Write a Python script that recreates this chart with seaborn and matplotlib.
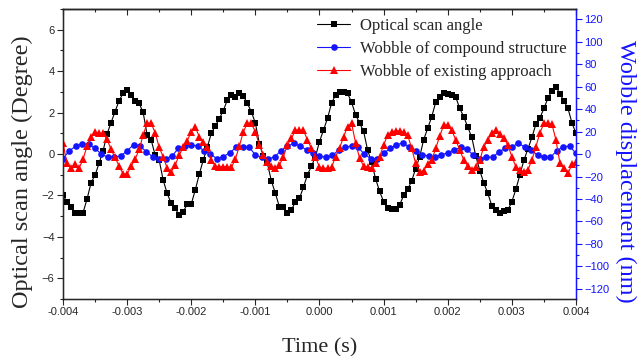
import numpy as np
import matplotlib
matplotlib.use("Agg")
import matplotlib.pyplot as plt
import seaborn as sns
from matplotlib.ticker import MultipleLocator, FormatStrFormatter, NullFormatter
from matplotlib.lines import Line2D

# --- data ---
# scan angle and existing-approach wobble share one time base (129 samples)
time_dense = np.linspace(-0.004, 0.004, 129)
scan_angle = [
    -2.0, -2.3, -2.56, -2.83, -2.83, -2.83, -2.18, -1.39, -1.02, -0.45,
    0.15, 0.97, 1.52, 2.05, 2.58, 2.93, 3.09, 2.85, 2.58, 2.45,
    2.01, 0.92, 0.68, -0.05, -0.29, -1.26, -1.9, -2.38, -2.62, -2.95,
    -2.79, -2.42, -2.42, -1.74, -0.98, -0.29, 0.32, 1.0, 1.35, 1.7,
    2.1, 2.6, 2.85, 2.77, 2.93, 2.8, 2.45, 2.04, 1.5, 0.5,
    -0.1, -0.45, -1.3, -1.9, -2.55, -2.55, -2.84, -2.7, -2.3, -2.14,
    -1.6, -1.0, -0.58, -0.13, 0.6, 1.16, 1.72, 2.45, 2.85, 3.0,
    3.0, 2.93, 2.5, 1.9, 1.5, 1.1, 0.2, -0.4, -1.2, -1.8,
    -2.3, -2.6, -2.67, -2.67, -2.45, -2.0, -1.7, -1.3, -0.7, -0.13,
    0.7, 1.24, 1.8, 2.5, 2.74, 2.96, 2.9, 2.85, 2.75, 2.2,
    1.8, 1.3, 0.8, -0.1, -0.8, -1.4, -1.9, -2.5, -2.7, -2.84,
    -2.75, -2.7, -2.3, -1.7, -1.0, -0.3, 0.25, 0.8, 1.45, 1.75,
    2.2, 2.7, 3.05, 3.25, 2.9, 2.55, 2.2, 1.5, 1.0,
]
wobble_existing = [
    10, -8.3, -12.7, -8.9, -12.7, -4.7, 7.1, 14.8, 19.8, 18.4,
    18.4, 13, 4.1, -3, -10.7, -17.8, -17.8, -10.7, -4.7, 4.1,
    16.9, 27.3, 27.3, 19, 5.9, -2.4, -12.7, -15.7, -9.8, -0.9,
    5.9, 11.9, 19.8, 24.3, 15.4, 10.9, 6.5, -5.3, -10.7, -11.3,
    -11.3, -11.3, -11.9, -4.7, 7, 19.8, 27.3, 27.3, 19.8, 8,
    -0.9, -6.8, -10.7, -12.7, -9.8, -2.4, 8.3, 14, 21.3, 21.3,
    21.3, 12.4, 5, -2.4, -11.9, -12.7, -12.7, -11.9, -2.4, 5,
    15.4, 24.3, 27.3, 10, -3.6, -10.7, -11.9, -12.7, -8.3, -2.4,
    8, 16.9, 19.8, 20.5, 20.5, 19.8, 16.9, 5, -8.3, -15.7,
    -14.8, -9, -5.3, 5, 16, 25.8, 25.8, 21.3, 12.4, 3.6,
    -5.3, -10.7, -14.2, -11.3, -5.3, 6.5, 12.4, 19, 21.3, 17.8,
    14, 8, -2.4, -11.3, -14.2, -15.7, -14.2, -5.3, 6.5, 19,
    27.3, 27.3, 26.7, 12.4, -8.3, -12.7, -17.2, -9.2, -7,
]
# compound-structure wobble sampled more coarsely (81 samples)
time_coarse = np.linspace(-0.004, 0.004, 81)
wobble_compound = [
    -4, 2.9, 7.1, 8.9, 8.9, 5.0, 0, -3, -2.4, -1.8,
    2.9, 8.3, 7.1, 2.1, -2.4, -4.1, -4.1, -1.8, 5.0, 7.1,
    8.0, 7.1, 2.9, 0, -4.1, -2.4, 1.2, 5.9, 6, 6.5,
    -0.9, -3, -4.7, -2.4, 2.9, 7.1, 9.5, 7.1, 3.6, 0.6,
    -1.8, -3, -1.2, 3.6, 5.9, 7.1, 5.9, 0, -4.1, -4.7,
    0.6, 5.0, 8.0, 10.1, 5.9, 2.9, -0.5, -1.8, -2.4, -0.9,
    1.2, 3.6, 5.9, 4.1, -0.9, -4.7, -2.4, -3, 2.1, 5.0,
    5.9, 10.1, 5.9, 3.6, -0.9, -2.4, -3, 2.9, 6.5, 7.1,
    0.6,
]
labels = ["Optical scan angle", "Wobble of compound structure",
          "Wobble of existing approach"]

sns.set_style("ticks")
plt.rcParams["font.family"] = ["Liberation Sans", "DejaVu Sans"]
serif = ["Liberation Serif", "DejaVu Serif"]
blue = "#1414ff"
red = "#ff0000"

fig = plt.figure(figsize=(6.4, 3.56), dpi=100)
ax1 = fig.add_axes([0.0984, 0.160, 0.8016, 0.8146])
ax2 = ax1.twinx()

sns.lineplot(x=time_dense, y=scan_angle, ax=ax1, color="black", marker="s",
             markersize=4.2, markeredgewidth=0, markeredgecolor="black",
             linewidth=0.8, legend=False)
sns.lineplot(x=time_coarse, y=wobble_compound, ax=ax2, color=blue, marker="o",
             markersize=4.8, markeredgewidth=0, markeredgecolor=blue,
             linewidth=0.8, legend=False)
sns.lineplot(x=time_dense, y=wobble_existing, ax=ax2, color=red, marker="^",
             markersize=5.6, markeredgewidth=0, markeredgecolor=red,
             linewidth=0.8, legend=False)

# axes ranges / ticks
ax1.set_xlim(-0.004, 0.004)
ax1.set_ylim(-7, 7)
ax2.set_ylim(-129, 129)
ax1.xaxis.set_major_locator(MultipleLocator(0.001))
ax1.xaxis.set_minor_locator(MultipleLocator(0.0005))
ax1.xaxis.set_major_formatter(FormatStrFormatter("%.3f"))
ax1.yaxis.set_major_locator(MultipleLocator(2))
ax1.yaxis.set_minor_locator(MultipleLocator(1))
ax2.yaxis.set_major_locator(MultipleLocator(20))
ax2.yaxis.set_minor_locator(MultipleLocator(10))

ax1.tick_params(axis="both", which="major", length=4, width=0.8, labelsize=8,
                pad=2, direction="out")
ax1.tick_params(axis="both", which="minor", length=2.5, width=0.8, direction="out")
ax1.tick_params(axis="x", which="both", top=False)

# top ticks point inward, as in the original
top = ax1.secondary_xaxis("top")
top.xaxis.set_major_locator(MultipleLocator(0.001))
top.xaxis.set_minor_locator(MultipleLocator(0.0005))
top.xaxis.set_major_formatter(NullFormatter())
top.tick_params(which="major", direction="in", length=4, width=0.8)
top.tick_params(which="minor", direction="in", length=2.5, width=0.8)
top.spines["top"].set_linewidth(1.0)

ax2.tick_params(axis="y", which="major", length=4, width=0.8, labelsize=8,
                pad=2, colors=blue)
ax2.tick_params(axis="y", which="minor", length=2.5, width=0.8, colors=blue)
ax2.spines["right"].set_color(blue)
ax2.spines["right"].set_linewidth(1.0)
for s in ["left", "bottom", "top"]:
    ax1.spines[s].set_linewidth(1.0)
    ax1.spines[s].set_color("black")

ax1.set_xlabel("Time (s)", family=serif, fontsize=16, labelpad=2)
ax1.set_ylabel("Optical scan angle (Degree)", family=serif, fontsize=17.5)
ax2.set_ylabel("Wobble displacement (nm)", family=serif, fontsize=17.5,
               color=blue, rotation=270, va="center")
ax1.yaxis.set_label_coords(-0.058, 0.44)
ax2.yaxis.set_label_coords(1.096, 0.44)
ax1.xaxis.set_label_coords(0.5, -0.135)

handles = [
    Line2D([], [], color="black", marker="s", markersize=4.2, linewidth=0.8,
           markeredgewidth=0),
    Line2D([], [], color=blue, marker="o", markersize=4.8, linewidth=0.8,
           markeredgewidth=0),
    Line2D([], [], color=red, marker="^", markersize=5.6, linewidth=0.8,
           markeredgewidth=0),
]
ax2.legend(handles, labels, loc="upper right", bbox_to_anchor=(1.0, 1.0),
           frameon=False, prop={"family": serif, "size": 12},
           handlelength=2.0, handletextpad=0.6, labelspacing=0.42,
           borderaxespad=0.15)

fig.savefig("out.png", dpi=100)
